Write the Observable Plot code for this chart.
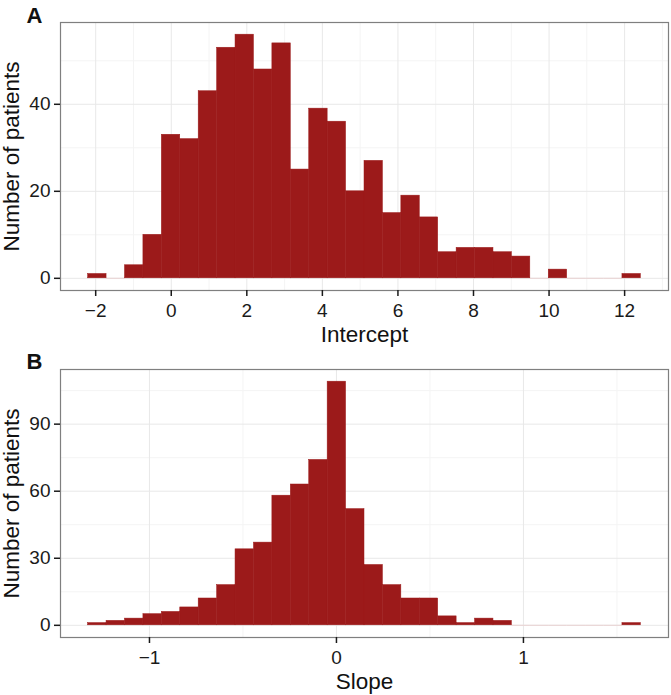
<!DOCTYPE html>
<html>
<head>
<meta charset="utf-8">
<script src="https://cdn.jsdelivr.net/npm/d3@7"></script>
<script src="https://cdn.jsdelivr.net/npm/@observablehq/plot@0.6"></script>
<style>
  html, body { margin: 0; padding: 0; background: #fff; }
  #wrap { width: 671px; height: 695px; font-family: "Liberation Sans", Arial, Helvetica, sans-serif; }
  #wrap svg { display: block; overflow: visible; }
</style>
</head>
<body>
<div id="wrap">
  <div id="plotA"></div>
  <div id="plotB"></div>
</div>
<script>
// ---- Data ----
// Panel A: histogram of intercepts, 30 bins between these limits
const interceptLo = -2.2;
const interceptHi = 12.43;
const interceptCounts = [1, 0, 3, 10, 33, 32, 43, 53, 56, 48, 54, 25, 39, 36, 20, 27, 15, 19, 14, 6, 7, 7, 6, 5, 0, 2, 0, 0, 0, 1];
const interceptTicksX = [-2, 0, 2, 4, 6, 8, 10, 12];
const interceptMinorX = [-1, 1, 3, 5, 7, 9, 11, 13];
const interceptTicksY = [0, 20, 40];
const interceptMinorY = [10, 30, 50];

// Panel B: histogram of slopes, 30 bins between these limits
const slopeLo = -1.328;
const slopeHi = 1.628;
const slopeCounts = [1, 2, 3, 5, 6, 8, 12, 18, 34, 37, 58, 63, 74, 109, 52, 27, 18, 12, 12, 4, 1, 3, 2, 0, 0, 0, 0, 0, 0, 1];
const slopeTicksX = [-1, 0, 1];
const slopeMinorX = [-0.5, 0.5, 1.5];
const slopeTicksY = [0, 30, 60, 90];
const slopeMinorY = [15, 45, 75, 105];

const yTitle = "Number of patients";
const FILL = "#9C1A1A";
const FONT = "'Liberation Sans', Arial, Helvetica, sans-serif";

function bins(lo, hi, counts) {
  const w = (hi - lo) / counts.length;
  return counts.map((c, i) => ({x1: lo + i * w, x2: lo + (i + 1) * w, count: c}));
}
function pad(lo, hi) { const e = (hi - lo) * 0.05; return [lo - e, hi + e]; }

function histogram({data, xDomain, yDomain, ticksX, minorX, ticksY, minorY, xTitle, tag, tagDy, height, marginTop, marginBottom}) {
  return Plot.plot({
    width: 671,
    height,
    marginLeft: 60,
    marginRight: 3,
    marginTop,
    marginBottom,
    style: {fontFamily: FONT, background: "#fff", color: "#1a1a1a"},
    x: {domain: xDomain},
    y: {domain: yDomain},
    marks: [
      Plot.gridX(minorX, {stroke: "#f4f4f4", strokeOpacity: 1, strokeWidth: 1}),
      Plot.gridY(minorY, {stroke: "#f4f4f4", strokeOpacity: 1, strokeWidth: 1}),
      Plot.gridX(ticksX, {stroke: "#e8e8e8", strokeOpacity: 1, strokeWidth: 1}),
      Plot.gridY(ticksY, {stroke: "#e8e8e8", strokeOpacity: 1, strokeWidth: 1}),
      Plot.ruleY(data.filter(d => d.count === 0), {y: 0, x1: "x1", x2: "x2", stroke: "#ead6d6", strokeWidth: 1.2}),
      Plot.rectY(data.filter(d => d.count > 0), {x1: "x1", x2: "x2", y1: 0, y2: "count", fill: FILL, stroke: FILL, strokeWidth: 0.5}),
      Plot.frame({stroke: "#7f7f7f", strokeWidth: 1.2}),
      Plot.axisX({ticks: ticksX, tickSize: 6, tickPadding: 7, fontSize: 19, label: null, stroke: "#1a1a1a", strokeWidth: 1.5, tickFormat: d => d3.format("~g")(d).replace("-", "\u2212")}),
      Plot.axisY({ticks: ticksY, tickSize: 6, tickPadding: 4, fontSize: 19, label: null, stroke: "#1a1a1a", strokeWidth: 1.5}),
      Plot.text([xTitle], {text: d => d, frameAnchor: "bottom", textAnchor: "middle", dy: 51.5, lineAnchor: "bottom", fontSize: 22.5, fill: "#111"}),
      Plot.text([yTitle], {text: d => d, frameAnchor: "left", textAnchor: "middle", dx: -48.5, rotate: -90, lineAnchor: "middle", fontSize: 22.5, fill: "#111"}),
      Plot.text([tag], {text: d => d, frameAnchor: "top-left", textAnchor: "start", lineAnchor: "bottom", dx: -34, dy: tagDy, fontSize: 22, fontWeight: "bold", fill: "#111"})
    ]
  });
}

const binsA = bins(interceptLo, interceptHi, interceptCounts);
const binsB = bins(slopeLo, slopeHi, slopeCounts);

document.getElementById("plotA").appendChild(histogram({
  data: binsA,
  xDomain: pad(interceptLo, interceptHi),
  yDomain: pad(0, d3.max(interceptCounts)),
  ticksX: interceptTicksX, minorX: interceptMinorX,
  ticksY: interceptTicksY, minorY: interceptMinorY,
  xTitle: "Intercept", tag: "A", tagDy: 0,
  height: 350, marginTop: 22, marginBottom: 60
}));

document.getElementById("plotB").appendChild(histogram({
  data: binsB,
  xDomain: pad(slopeLo, slopeHi),
  yDomain: pad(0, d3.max(slopeCounts)),
  ticksX: slopeTicksX, minorX: slopeMinorX,
  ticksY: slopeTicksY, minorY: slopeMinorY,
  xTitle: "Slope", tag: "B", tagDy: -1,
  height: 345, marginTop: 19, marginBottom: 58
}));
</script>
</body>
</html>
